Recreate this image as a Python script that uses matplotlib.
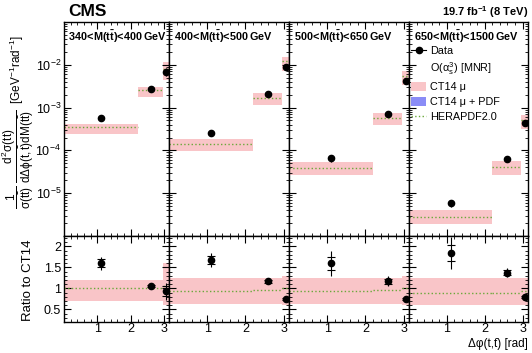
import numpy as np
import matplotlib
matplotlib.use('Agg')
import matplotlib.pyplot as plt
from matplotlib.ticker import MultipleLocator, LogLocator, NullFormatter, FixedLocator
from matplotlib.patches import Patch
from matplotlib.lines import Line2D

plt.rcParams['font.family'] = ['Liberation Sans', 'DejaVu Sans']
plt.rcParams['mathtext.fontset'] = 'custom'
plt.rcParams['mathtext.rm'] = 'Liberation Sans'
plt.rcParams['mathtext.it'] = 'Liberation Sans'
plt.rcParams['mathtext.bf'] = 'Liberation Sans:bold'

# Delta phi bins and data point positions
phi_edges = [0, 2.2, 2.95, np.pi]
phi_points = [1.1, 2.6, 3.05]

mass_labels = [r'$\mathbf{340\!<\!M(t\bar{t})\!<\!400\,GeV}$',
               r'$\mathbf{400\!<\!M(t\bar{t})\!<\!500\,GeV}$',
               r'$\mathbf{500\!<\!M(t\bar{t})\!<\!650\,GeV}$',
               r'$\mathbf{650\!<\!M(t\bar{t})\!<\!1500\,GeV}$']

# CT14 mu prediction (central), one list per mass bin
ct14 = [[3.5e-4, 2.5e-3, 7.4e-3],
        [1.5e-4, 1.75e-3, 1.2e-2],
        [4.2e-5, 6.0e-4, 5.5e-3],
        [3.2e-6, 4.5e-5, 5.4e-4]]

# measured cross sections
data = [[5.6e-4, 2.65e-3, 6.9e-3],
        [2.52e-4, 2.05e-3, 9.0e-3],
        [6.7e-5, 7.0e-4, 4.1e-3],
        [5.9e-6, 6.2e-5, 4.3e-4]]

# errors on the ratio (total and statistical)
err_tot = [[0.15, 0.05, 0.2],
           [0.17, 0.06, 0.05],
           [0.3, 0.12, 0.05],
           [0.38, 0.1, 0.05]]
err_stat = [[0.1, 0.03, 0.12],
            [0.1, 0.03, 0.03],
            [0.15, 0.06, 0.03],
            [0.2, 0.05, 0.03]]

# CT14 mu scale band as ratio to central
band_lo = [[0.7, 0.69, 0.6],
           [0.64, 0.64, 0.6],
           [0.64, 0.64, 0.6],
           [0.6, 0.6, 0.6]]
band_hi = [[1.2, 1.2, 1.6],
           [1.25, 1.25, 1.3],
           [1.25, 1.25, 1.3],
           [1.24, 1.24, 1.24]]

# HERAPDF2.0 as ratio to CT14
hera = [[1.0, 1.02, 1.05],
        [0.95, 0.97, 1.0],
        [0.93, 0.96, 1.0],
        [0.88, 0.9, 0.95]]

pink = '#f9c5c8'
blue = '#8a8cf6'
green = '#6aa83a'

W, H = 532, 353
fig = plt.figure(figsize=(W / 100, H / 100), dpi=100)

panels_x = [(64, 169), (169, 289), (289, 409), (409, 528)]
up_y = (22, 236)
lo_y = (236, 322)


def box(xr, yr):
    return [xr[0] / W, 1 - yr[1] / H, (xr[1] - xr[0]) / W, (yr[1] - yr[0]) / H]


def style(ax):
    ax.tick_params(which='both', direction='in', top=True, right=True, labelsize=9, pad=2)
    ax.tick_params(which='major', length=5, width=0.8)
    ax.tick_params(which='minor', length=2.5, width=0.6)
    for s in ax.spines.values():
        s.set_linewidth(1.0)


def draw_bins(ax, lo, hi, line):
    # separate box and dotted line for each delta phi bin
    for k in range(3):
        x0, x1 = phi_edges[k], phi_edges[k + 1]
        ax.fill_between([x0, x1], [lo[k]] * 2, [hi[k]] * 2, color=pink, lw=0)
        ax.hlines(line[k], x0, x1, colors=green, lw=1.0, linestyles=':')


for i in range(4):
    ax = fig.add_axes(box(panels_x[i], up_y))
    rx = fig.add_axes(box(panels_x[i], lo_y))
    c = np.array(ct14[i])
    d = np.array(data[i])
    ratio = d / c
    lo = np.array(band_lo[i])
    hi = np.array(band_hi[i])
    hr = np.array(hera[i])

    # upper panel
    draw_bins(ax, c * lo, c * hi, c * hr)
    ax.errorbar(phi_points, d, yerr=d * np.array(err_tot[i]) / ratio, fmt='o', color='black',
                ms=4.5, lw=0.8, capsize=0, zorder=5)
    ax.set_yscale('log')
    ax.set_ylim(1e-6, 1e-1)
    ax.set_xlim(0, np.pi)
    ax.xaxis.set_major_locator(FixedLocator([1, 2, 3]))
    ax.xaxis.set_minor_locator(MultipleLocator(0.2))
    ax.yaxis.set_major_locator(FixedLocator([1e-5, 1e-4, 1e-3, 1e-2]))
    ax.yaxis.set_minor_locator(LogLocator(base=10, subs=np.arange(2, 10), numticks=20))
    ax.yaxis.set_minor_formatter(NullFormatter())
    ax.set_xticklabels([])
    style(ax)
    if i > 0:
        ax.set_yticklabels([])
    ax.text(0.04, 0.93, mass_labels[i], transform=ax.transAxes, fontsize=7.8,
            ha='left', va='center')

    # ratio panel
    draw_bins(rx, lo, hi, hr)
    rx.errorbar(phi_points, ratio, yerr=err_tot[i], fmt='o', color='black',
                ms=4.5, lw=0.8, capsize=0, zorder=5)
    rx.errorbar(phi_points, ratio, yerr=err_stat[i], fmt='none', ecolor='black',
                lw=0, elinewidth=0, capsize=3, capthick=0.8, zorder=5)
    rx.set_xlim(0, np.pi)
    rx.set_ylim(0.2, 2.25)
    rx.xaxis.set_major_locator(FixedLocator([1, 2, 3]))
    rx.xaxis.set_minor_locator(MultipleLocator(0.2))
    rx.yaxis.set_major_locator(FixedLocator([0.5, 1, 1.5, 2]))
    rx.yaxis.set_minor_locator(MultipleLocator(0.1))
    style(rx)
    rx.tick_params(axis='x', pad=1)
    if i > 0:
        rx.set_yticklabels([])
    else:
        rx.set_yticklabels(['0.5', '1', '1.5', '2'])

    if i == 3:
        handles = [Line2D([], [], color='black', marker='o', ms=4.5, lw=0.8),
                   Line2D([], [], color='none'),
                   Patch(facecolor=pink, edgecolor='none'),
                   Patch(facecolor=blue, edgecolor='none'),
                   Line2D([], [], color=green, ls=':', lw=1.0)]
        labels = ['Data', r'O($\alpha_s^3$) [MNR]', 'CT14 \u03bc', 'CT14 \u03bc + PDF', 'HERAPDF2.0']
        ax.legend(handles, labels, loc='upper left', bbox_to_anchor=(-0.02, 0.91),
                  frameon=False, fontsize=7.8, handlelength=1.4, handleheight=1.0,
                  handletextpad=0.4, labelspacing=0.4, borderaxespad=0)

fig.text(68 / W, 1 - 12 / H, 'CMS', fontsize=12.5, fontweight='bold', ha='left', va='center')
fig.text(528 / W, 1 - 12 / H, r'19.7 fb$^{\mathbf{-1}}$ (8 TeV)', fontsize=8, fontweight='bold',
         ha='right', va='center')

fig.text(18 / W, 1 - 122 / H,
         r'$\dfrac{1}{\sigma(t\bar{t})}\ \dfrac{d^{2}\sigma(t\bar{t})}{d\Delta\phi(t,\bar{t})dM(t\bar{t})}$'
         r'  [GeV$^{-1}$rad$^{-1}$]',
         rotation=90, fontsize=8.5, ha='center', va='center')
fig.text(28 / W, 1 - 280 / H, 'Ratio to CT14', rotation=90, fontsize=9.5, ha='center', va='center')
fig.text(528 / W, 1 - 347 / H, '\u0394\u03c6(t,t\u0304) [rad]', fontsize=8.5, ha='right',
         va='baseline')

fig.savefig('out.png', dpi=100)
